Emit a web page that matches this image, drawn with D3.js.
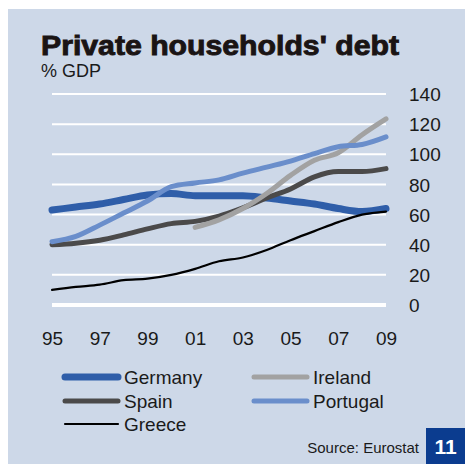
<!DOCTYPE html>
<html><head><meta charset="utf-8">
<script src="https://cdn.jsdelivr.net/npm/d3@7"></script>
<style>html,body{margin:0;padding:0;background:#fff;}svg{display:block;}text{font-family:"Liberation Sans",Arial,sans-serif;}</style>
</head><body>
<script>
const years = [1995,1996,1997,1998,1999,2000,2001,2002,2003,2004,2005,2006,2007,2008,2009];
const xTickLabels = ["95","97","99","01","03","05","07","09"];
const yTicks = [0,20,40,60,80,100,120,140];
const germany  = [63,65,67,70,73,74,72.5,72.5,72.5,71,69,67,64,62,64];
const ireland  = [null,null,null,null,null,null,51.5,56.5,64,74,86,96,101,113,123.5];
const spain    = [40,41,43,46.5,50.5,54,55.5,59,64.5,71,77,85,88.5,88.5,90.5];
const portugal = [42,45.5,53,61,69,78.5,81,83,87.5,91.5,95.5,100.5,105,106.5,111.5];
const greece   = [10,12,13.5,16.5,17.5,20,24,29,31.5,36.5,43,49,55,60,62];
const seriesNames = ["Germany","Ireland","Spain","Portugal","Greece"];

const W=465,H=464;
const svg=d3.select("body").append("svg").attr("width",W).attr("height",H);
svg.append("rect").attr("x",8).attr("y",9).attr("width",W-8).attr("height",H-9).attr("fill","#cdd8e8");

const x=d3.scaleLinear().domain([1995,2009]).range([52,386]);
const y=d3.scaleLinear().domain([0,140]).range([305,94]);

// gridlines
svg.append("g").selectAll("line").data(yTicks).join("line")
  .attr("x1",52).attr("x2",386).attr("y1",d=>y(d)).attr("y2",d=>y(d))
  .attr("stroke","#fff").attr("stroke-width",d=>d===0?4:2);

// y axis labels (right)
const yAxis=d3.axisRight(y).tickValues(yTicks).tickSize(0).tickPadding(0);
const gy=svg.append("g").attr("transform","translate(409,0)").call(yAxis);
gy.select(".domain").remove();
gy.selectAll("text").attr("font-size",19).attr("fill","#1a1a1a").attr("font-family","Liberation Sans, Arial, sans-serif").attr("dy","0.35em");

// x axis labels
const xAxis=d3.axisBottom(x).tickValues(d3.range(1995,2010,2)).tickFormat((d,i)=>xTickLabels[i]).tickSize(0).tickPadding(0);
const gx=svg.append("g").attr("transform","translate(0,331)").call(xAxis);
gx.select(".domain").remove();
gx.selectAll("text").attr("font-size",19).attr("fill","#1a1a1a").attr("font-family","Liberation Sans, Arial, sans-serif").attr("dy","0.71em");

const styles={
  Germany:{data:germany,color:"#2f5ea9",w:7},
  Ireland:{data:ireland,color:"#a2a2a2",w:5},
  Spain:{data:spain,color:"#4b4a4a",w:5},
  Portugal:{data:portugal,color:"#6a8ecb",w:5},
  Greece:{data:greece,color:"#000",w:2.2}
};
const order=["Germany","Greece","Spain","Ireland","Portugal"];
const line=d3.line().defined(d=>d.v!=null).x(d=>x(d.yr)).y(d=>y(d.v)).curve(d3.curveMonotoneX);
order.forEach(n=>{
  const s=styles[n];
  svg.append("path").datum(years.map((yr,i)=>({yr,v:s.data[i]})))
    .attr("d",line).attr("fill","none").attr("stroke",s.color).attr("stroke-width",s.w)
    .attr("stroke-linecap","round").attr("stroke-linejoin","round");
});

// title
svg.append("text").attr("x",41).attr("y",55).text("Private households' debt")
  .attr("font-size",27).attr("font-weight","bold").attr("fill","#1a1414")
  .attr("stroke","#1a1414").attr("stroke-width",0.9)
  .attr("textLength",358).attr("lengthAdjust","spacingAndGlyphs");
svg.append("text").attr("x",41).attr("y",77).text("% GDP").attr("font-size",18).attr("fill","#1a1a1a");

// legend
const leg=[
  {n:"Germany",lx:63,ly:377},
  {n:"Ireland",lx:252,ly:377},
  {n:"Spain",lx:63,ly:401},
  {n:"Portugal",lx:252,ly:401},
  {n:"Greece",lx:63,ly:424}
];
leg.forEach(l=>{
  const s=styles[l.n];
  svg.append("line").attr("x1",l.lx+2).attr("x2",l.lx+55).attr("y1",l.ly).attr("y2",l.ly)
    .attr("stroke",s.color).attr("stroke-width",s.w).attr("stroke-linecap","round");
  svg.append("text").attr("x",l.lx+61).attr("y",l.ly+7).text(l.n).attr("font-size",19).attr("fill","#1a1a1a");
});

// source & page number
svg.append("text").attr("x",419).attr("y",453).attr("text-anchor","end").text("Source: Eurostat").attr("font-size",15).attr("fill","#1a1a1a");
svg.append("rect").attr("x",426).attr("y",428).attr("width",39).attr("height",36).attr("fill","#0b3c8f");
svg.append("text").attr("x",445.5).attr("y",454).attr("text-anchor","middle").text("11").attr("font-size",21).attr("font-weight","bold").attr("fill","#fff");
</script>
</body></html>
